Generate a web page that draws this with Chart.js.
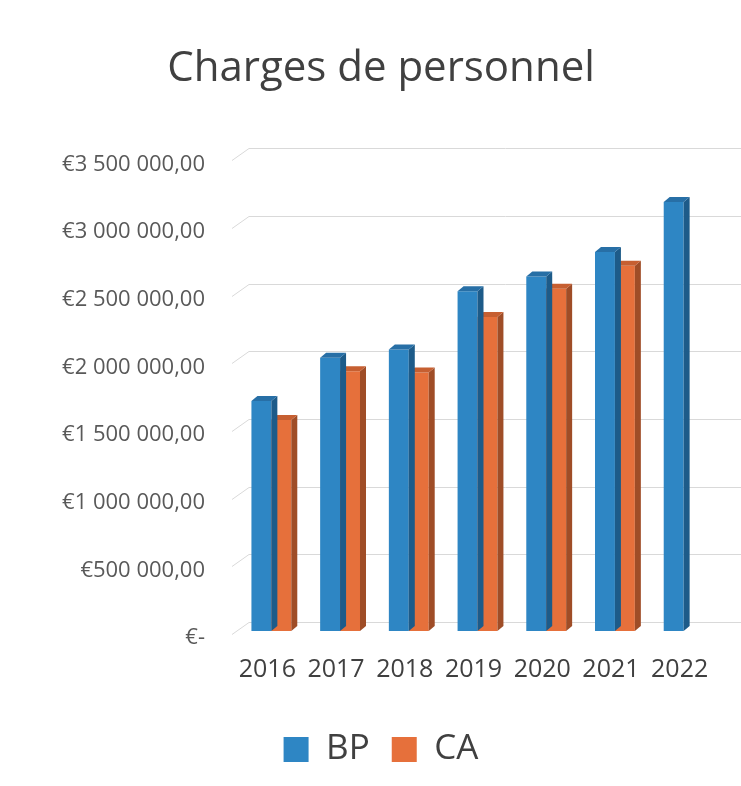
<!DOCTYPE html>
<html>
<head>
<meta charset="utf-8">
<script src="https://cdn.jsdelivr.net/npm/chart.js@4.4.0/dist/chart.umd.min.js"></script>
<style>
  html, body { margin: 0; padding: 0; background: #ffffff; overflow: hidden; }
  #wrap { width: 762px; height: 786px; position: relative; }
</style>
</head>
<body>
<div id="wrap"><canvas id="c" width="762" height="786"></canvas></div>
<script>
const title = "Charges de personnel";
const years = ["2016", "2017", "2018", "2019", "2020", "2021", "2022"];
const bpValues = [1700000, 2020000, 2080000, 2510000, 2620000, 2800000, 3170000];
const caValues = [1560000, 1920000, 1910000, 2320000, 2530000, 2700000, null];
const yTicks = [0, 500000, 1000000, 1500000, 2000000, 2500000, 3000000, 3500000];

function fmtEuro(v) {
  if (v === 0) return "€-";
  const s = Math.round(v).toString().replace(/\B(?=(\d{3})+(?!\d))/g, " ");
  return "€" + s + ",00";
}

const colors = {
  BP: { front: "#2e86c4", side: "#1d5b89", top: "#276fa6" },
  CA: { front: "#e6703b", side: "#9f4d27", top: "#c65f31" }
};
const DX = 6, DY = 5;

const depthPlugin = {
  id: "depth",
  beforeDatasetsDraw(chart) {
    const { ctx, chartArea, scales } = chart;
    const ys = scales.y;
    ctx.save();
    ctx.strokeStyle = "#d9d9d9";
    ctx.lineWidth = 1;
    yTicks.forEach(v => {
      const y = Math.round(ys.getPixelForValue(v)) + 0.5;
      ctx.beginPath();
      ctx.moveTo(chartArea.left - 5, y + 3);
      ctx.lineTo(chartArea.left + 12, y - 9);
      ctx.lineTo(chart.width, y - 9);
      ctx.stroke();
    });
    ctx.restore();
  },
  afterDatasetDraw(chart, args) {
    const ds = chart.data.datasets[args.index];
    const c = colors[ds.label];
    const meta = args.meta;
    const ctx = chart.ctx;
    ctx.save();
    meta.data.forEach((bar, i) => {
      if (ds.data[i] == null) return;
      const p = bar.getProps(["x", "y", "base", "width"], true);
      const l = p.x - p.width / 2, r = p.x + p.width / 2, t = p.y, b = p.base;
      ctx.fillStyle = c.side;
      ctx.beginPath();
      ctx.moveTo(r, t); ctx.lineTo(r + DX, t - DY); ctx.lineTo(r + DX, b - DY); ctx.lineTo(r, b);
      ctx.closePath(); ctx.fill();
      ctx.fillStyle = c.top;
      ctx.beginPath();
      ctx.moveTo(l, t); ctx.lineTo(l + DX, t - DY); ctx.lineTo(r + DX, t - DY); ctx.lineTo(r, t);
      ctx.closePath(); ctx.fill();
    });
    ctx.restore();
  }
};

new Chart(document.getElementById("c"), {
  type: "bar",
  data: {
    labels: years,
    datasets: [
      { label: "BP", data: bpValues, backgroundColor: colors.BP.front, borderWidth: 0 },
      { label: "CA", data: caValues, backgroundColor: colors.CA.front, borderWidth: 0 }
    ]
  },
  options: {
    responsive: false,
    animation: false,
    devicePixelRatio: 1,
    layout: { padding: { left: 44, right: 44, top: 0, bottom: 9 } },
    categoryPercentage: 0.58,
    barPercentage: 1.0,
    plugins: {
      title: {
        display: true,
        text: title,
        color: "#404040",
        font: { family: "'Open Sans'", size: 42, weight: "normal" },
        padding: { top: 44, bottom: 63 }
      },
      legend: {
        display: true,
        position: "bottom",
        labels: {
          color: "#404040",
          font: { family: "'Open Sans'", size: 35 },
          boxWidth: 25,
          boxHeight: 25,
          padding: 22
        }
      },
      tooltip: { enabled: false }
    },
    scales: {
      x: {
        grid: { display: false, drawTicks: false },
        border: { display: false },
        ticks: {
          color: "#404040",
          font: { family: "'Open Sans'", size: 25 },
          padding: 24,
          labelOffset: -4,
          maxRotation: 0
        },
        afterFit(s) { s.height = 79; }
      },
      y: {
        min: 0,
        max: 3500000,
        grid: { display: false, drawTicks: false },
        border: { display: false },
        afterBuildTicks(s) { s.ticks = yTicks.map(v => ({ value: v })); },
        ticks: {
          color: "#595959",
          font: { family: "'Open Sans'", size: 22 },
          padding: 32,
          labelOffset: 7,
          callback: (v) => fmtEuro(v)
        },
        afterFit(s) { s.width = 193; }
      }
    }
  },
  plugins: [depthPlugin]
});
</script>
</body>
</html>
